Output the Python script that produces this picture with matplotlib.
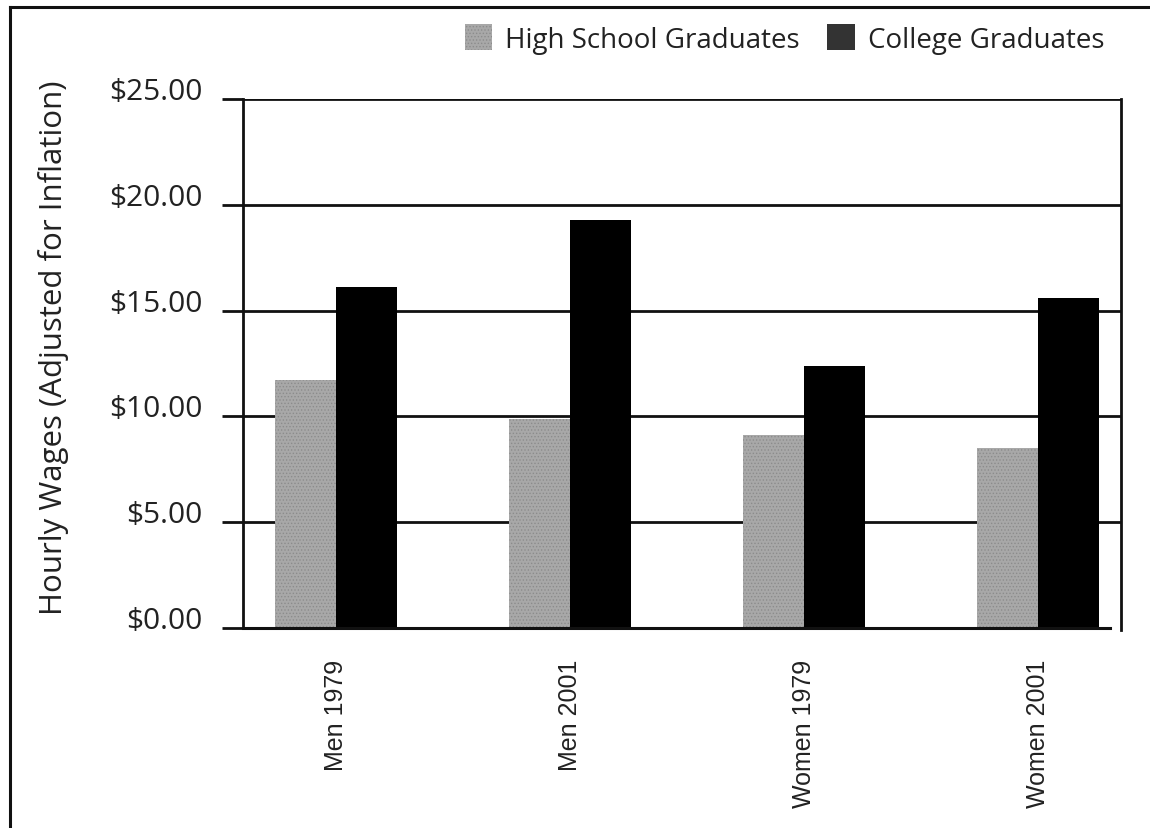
import matplotlib
matplotlib.use("Agg")
import matplotlib.pyplot as plt
import matplotlib.transforms as mtransforms
from matplotlib.lines import Line2D
from matplotlib.patches import Patch
import numpy as np

categories = ["Men 1979", "Men 2001", "Women 1979", "Women 2001"]
high_school = [11.7, 9.9, 9.1, 8.5]
college = [16.1, 19.3, 12.4, 15.6]
series_names = ["High School Graduates", "College Graduates"]
yticks = [0, 5, 10, 15, 20, 25]
ytick_labels = ["$0.00", "$5.00", "$10.00", "$15.00", "$20.00", "$25.00"]

plt.rcParams['hatch.linewidth'] = 0.6

fig = plt.figure(figsize=(11.5, 8.29), dpi=100)
ax = fig.add_axes([243/1150, 1 - 629/829, (1121-243)/1150, (629-100)/829])

x = np.arange(len(categories))
w = 0.262
hs_color = '#a8a8a8'
ax.bar(x - w/2, high_school, width=w, color=hs_color, edgecolor='#8c8c8c',
       hatch='.....', linewidth=0, zorder=3)
ax.bar(x + w/2, college, width=w, color='black', linewidth=0, zorder=3)

ax.set_xlim(-0.397, 3.355)
ax.set_ylim(0, 25)

for s in ['top', 'bottom']:
    ax.spines[s].set_visible(False)
for s in ['left', 'right']:
    ax.spines[s].set_linewidth(2.0)
    ax.spines[s].set_color('#111111')
ax.spines['right'].set_bounds(-0.1, 25)

ax.set_yticks(yticks)
ax.set_yticklabels(ytick_labels, family=['Open Sans', 'DejaVu Sans'], fontsize=21.5, color='#222222')
ax.tick_params(axis='y', direction='out', length=15, width=2.0, pad=14, color='#111111')
ax.yaxis.grid(True, color='#111111', linewidth=2.0, zorder=1)
gl = ax.get_ygridlines()
gl[0].set_visible(False)
ax.axhline(0, xmin=0, xmax=0.9875, color='#111111', linewidth=2.2, zorder=4, clip_on=False)

offset = mtransforms.ScaledTranslation(0, 11/100, fig.dpi_scale_trans)
for lab in ax.get_yticklabels():
    lab.set_transform(lab.get_transform() + offset)

ax.set_xticks(x)
ax.set_xticklabels(categories, rotation=90, family=['Liberation Sans', 'DejaVu Sans'],
                   fontsize=18, color='#222222')
ax.tick_params(axis='x', length=0, pad=22)

ax.set_ylabel("Hourly Wages (Adjusted for Inflation)", family=['Open Sans', 'DejaVu Sans'],
              fontsize=22.5, color='#222222')
ax.yaxis.set_label_coords(54/1150, 1 - 348/829, transform=fig.transFigure)
ax.yaxis.label.set_verticalalignment('center')

handles = [Patch(facecolor=hs_color, edgecolor='#8c8c8c', hatch='.....', linewidth=0),
           Patch(facecolor='#333333', linewidth=0)]
leg = fig.legend(handles, series_names, loc='center right', bbox_to_anchor=(1104/1150, 1 - 40/829),
                 ncol=2, frameon=False, prop={'family': ['Open Sans', 'DejaVu Sans'], 'size': 20},
                 handlelength=1.0, handleheight=1.05, handletextpad=0.45, columnspacing=1.0,
                 borderaxespad=0, borderpad=0)
for t in leg.get_texts():
    t.set_color('#222222')

# figure frame (top and left edges)
fig.add_artist(Line2D([10/1150, 1], [1 - 8/829, 1 - 8/829], transform=fig.transFigure,
                      color='#111111', linewidth=2.2))
fig.add_artist(Line2D([10/1150, 10/1150], [0, 1 - 8/829], transform=fig.transFigure,
                      color='#111111', linewidth=2.2))

fig.savefig("out.png", dpi=100, facecolor='white')
